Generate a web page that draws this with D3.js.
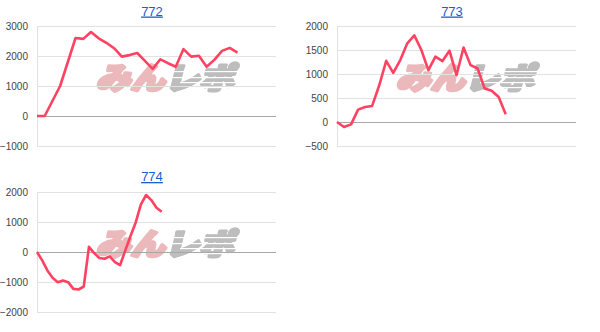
<!DOCTYPE html>
<html>
<head>
<meta charset="utf-8">
<script src="https://cdn.jsdelivr.net/npm/d3@7"></script>
<style>
  body { margin: 0; background: #fff; }
  svg { display: block; }
  .tick-label { font-family: "Liberation Sans", Arial, sans-serif; font-size: 10px; fill: #444; }
  .title { font-family: "Liberation Sans", Arial, sans-serif; font-size: 13px; fill: #1a5fd0; text-decoration: underline; }
</style>
</head>
<body>
<svg id="chart" width="600" height="332"></svg>
<script>
// data ----------------------------------
const titles = ['772', '773', '774'];

const series772 = [0, 0, 500, 1000, 1800, 2600, 2570, 2800, 2590, 2440, 2260, 1980, 2030, 2100,
  1840, 1570, 1890, 1760, 1640, 2230, 1980, 2010, 1640, 1870, 2170, 2270, 2110];
const series773 = [0, -105, -50, 258, 314, 335, 760, 1275, 1025, 1290, 1640, 1805, 1500, 1080,
  1360, 1270, 1485, 975, 1550, 1185, 1115, 700, 650, 520, 160];
const series774 = [0, -280, -615, -860, -1005, -950, -1005, -1230, -1250, -1150, 170, -35, -200,
  -225, -145, -335, -435, 55, 535, 985, 1585, 1900, 1730, 1475, 1340];

const ticks772 = [-1000, 0, 1000, 2000, 3000];
const ticks773 = [-500, 0, 500, 1000, 1500, 2000];
const ticks774 = [-2000, -1000, 0, 1000, 2000];

// number of x slots on each chart's horizontal axis
const xSlots = [31, 34, 46];
// ---------------------------------------

const charts = [
  { title: titles[0], values: series772, ticks: ticks772, slots: xSlots[0], col: 0, row: 0 },
  { title: titles[1], values: series773, ticks: ticks773, slots: xSlots[1], col: 1, row: 0 },
  { title: titles[2], values: series774, ticks: ticks774, slots: xSlots[2], col: 0, row: 1 }
];

const cellW = 300, cellH = 166;
const plot = { left: 37, right: 276, top: 26, bottom: 146 };

const svg = d3.select('#chart');

// mask for the speed lines cut through the watermark
const defs = svg.append('defs');
const mask = defs.append('mask').attr('id', 'stripes').attr('maskUnits', 'userSpaceOnUse')
  .attr('x', 0).attr('y', 0).attr('width', 300).attr('height', 166);
mask.append('rect').attr('width', 300).attr('height', 166).attr('fill', '#fff');
[71, 77, 82, 87].forEach((yy, i) => {
  mask.append('rect').attr('x', 160 + i * 10).attr('y', yy).attr('width', 85).attr('height', 1.2).attr('fill', '#000');
});

charts.forEach(c => {
  const g = svg.append('g')
    .attr('transform', 'translate(' + (c.col * cellW) + ',' + (c.row * cellH) + ')');

  const x = d3.scaleLinear().domain([0, c.slots]).range([plot.left, plot.right]);
  const y = d3.scaleLinear().domain(d3.extent(c.ticks)).range([plot.bottom, plot.top]);

  // watermark
  const wm = g.append('g').attr('mask', 'url(#stripes)');
  const wt = wm.append('text')
    .attr('x', 0).attr('y', 0)
    .attr('transform', 'translate(96,89) skewX(-14)')
    .style('font-family', '"Noto Sans CJK JP", sans-serif')
    .style('font-weight', 900)
    .style('font-size', '30px')
    .attr('stroke-width', 3.2)
    .attr('stroke-linejoin', 'round')
    .attr('textLength', 138)
    .attr('lengthAdjust', 'spacingAndGlyphs');
  wt.append('tspan').attr('fill', '#ebb9bb').attr('stroke', '#ebb9bb').text('みん');
  wt.append('tspan').attr('fill', '#bdbdbd').attr('stroke', '#bdbdbd').text('レポ');

  // gridlines
  g.append('g').selectAll('line').data(c.ticks).join('line')
    .attr('x1', plot.left).attr('x2', plot.right)
    .attr('y1', d => Math.round(y(d)) + 0.5).attr('y2', d => Math.round(y(d)) + 0.5)
    .attr('stroke', d => d === 0 ? '#a8a8a8' : '#e2e2e2')
    .attr('stroke-width', 1);

  // left axis line
  g.append('line')
    .attr('x1', plot.left + 0.5).attr('x2', plot.left + 0.5)
    .attr('y1', plot.top).attr('y2', plot.bottom + 0.5)
    .attr('stroke', '#e2e2e2');

  // y labels
  const yAxis = d3.axisLeft(y).tickValues(c.ticks).tickSize(0).tickPadding(9).tickFormat(d3.format('d'));
  const ya = g.append('g').attr('transform', 'translate(' + plot.left + ',0)').call(yAxis);
  ya.select('.domain').remove();
  ya.selectAll('text').attr('class', 'tick-label').attr('fill', null)
    .style('font-family', null).style('font-size', null);

  // line
  const line = d3.line().x((d, i) => x(i)).y(d => y(d));
  g.append('path').datum(c.values)
    .attr('d', line)
    .attr('fill', 'none')
    .attr('stroke', '#ff4262')
    .attr('stroke-width', 2.6)
    .attr('stroke-linejoin', 'round');

  // title
  g.append('text').attr('class', 'title')
    .attr('x', 152).attr('y', 15.5 - c.row * 0.5)
    .attr('text-anchor', 'middle')
    .text(c.title);
});
</script>
</body>
</html>
